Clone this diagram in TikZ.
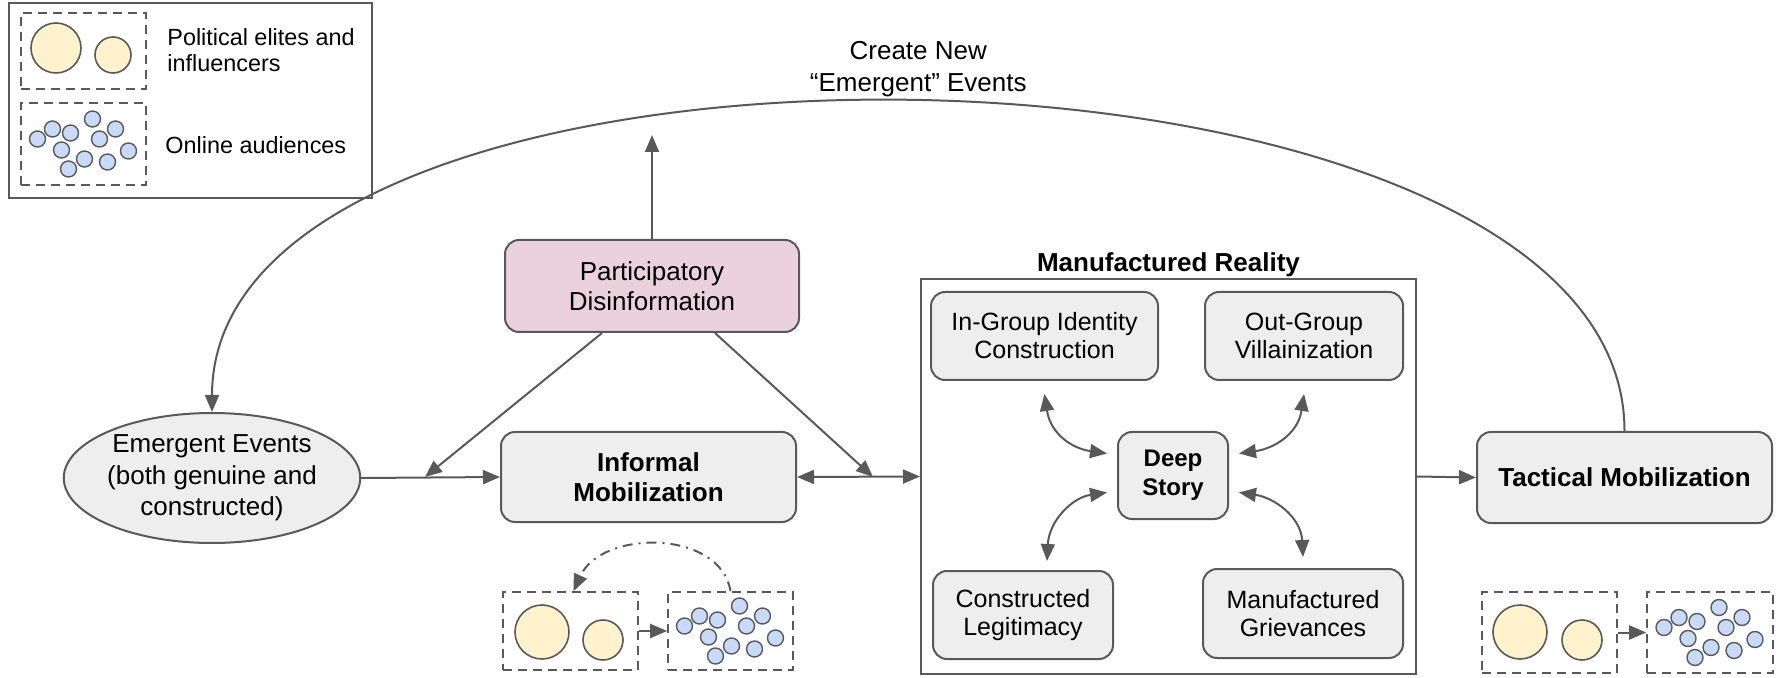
\documentclass[tikz,border=0pt]{standalone}
\usepackage{fontspec}
\setmainfont{Liberation Sans}
\usetikzlibrary{arrows.meta,positioning,shapes.geometric}

\definecolor{edge}{HTML}{595959}
\definecolor{panel}{HTML}{EEEEEE}
\definecolor{pinkbox}{HTML}{EAD1DC}
\definecolor{elitefill}{HTML}{FFF2CC}
\definecolor{crowdfill}{HTML}{C9DAF8}

\tikzset{
  stage/.style={draw=edge, line width=1pt, fill=panel, rounded corners=7pt,
    align=center, inner sep=0pt, font=\fontsize{13}{15}\selectfont},
  core/.style={stage, font=\fontsize{13}{15}\selectfont\bfseries},
  facet/.style={stage, font=\fontsize{12.5}{14}\selectfont},
  event/.style={ellipse, draw=edge, line width=1pt, fill=panel, align=center,
    inner sep=0pt, minimum width=148pt, minimum height=65pt,
    font=\fontsize{13}{15.75}\selectfont},
  realitybox/.style={draw=edge, line width=1pt, inner sep=0pt},
  groupbox/.style={draw=edge, line width=0.8pt, dash pattern=on 4.5pt off 3pt, inner sep=0pt},
  elite/.style={circle, draw=edge, line width=0.8pt, fill=elitefill, inner sep=0pt},
  fan/.style={circle, draw=edge, line width=0.7pt, fill=crowdfill, inner sep=0pt, minimum size=8pt},
  flow/.style={draw=edge, line width=1pt},
  legendtext/.style={anchor=west, align=left, inner sep=0pt, font=\fontsize{11.7}{13}\selectfont}
}

\begin{document}
\begin{tikzpicture}[x=0.5pt, y=-0.5pt, >={Triangle[length=8.5pt,width=7pt]}]
\useasboundingbox (0,0) rectangle (1777,678);

% Legend
\node[draw=edge, line width=1pt, inner sep=0pt, minimum width=181.5pt, minimum height=97.5pt] (legend) at (190.5,100.5) {};
\node[groupbox, minimum width=62.5pt, minimum height=38pt] (eb0) at (83.5,51) {};
\node[groupbox, minimum width=62.5pt, minimum height=41pt] (ab0) at (83.5,144) {};
\node[legendtext] (elitetext) at (167,50) {Political elites and\\influencers};
\node[legendtext] (crowdtext) at (165,145) {Online audiences};

% Main stages
\node[event] (ee) at (212,478) {Emergent Events\\(both genuine and\\constructed)};
\node[stage, fill=pinkbox, minimum width=147pt, minimum height=46pt] (pd) at (652,286) {Participatory\\Disinformation};
\node[core, minimum width=147.5pt, minimum height=45pt] (im) at (648.5,477) {Informal\\Mobilization};
\node[realitybox, minimum width=247.5pt, minimum height=197.5pt] (mr) at (1168.5,476.5) {};
\node[inner sep=0pt, above=0.5pt of mr, font=\fontsize{13}{15}\selectfont\bfseries] (mrtitle) {Manufactured Reality};
\node[core, minimum width=147.5pt, minimum height=45.5pt] (tm) at (1624.5,477.5) {Tactical Mobilization};

% Inside the manufactured reality
\node[facet, minimum width=113.5pt, minimum height=44pt] (ig) at (1044.5,336) {In-Group Identity\\Construction};
\node[facet, minimum width=99pt, minimum height=44pt] (og) at (1304,336) {Out-Group\\Villainization};
\node[facet, minimum width=90pt, minimum height=44pt] (cl) at (1023,615) {Constructed\\Legitimacy};
\node[facet, minimum width=100pt, minimum height=44.5pt] (mg) at (1303,613.5) {Manufactured\\Grievances};
\node[core, font=\fontsize{12}{14.5}\selectfont\bfseries, minimum width=55pt, minimum height=43.5pt] (ds) at (1173,475.5) {Deep\\Story};

\coordinate (j1) at (425,477);
\coordinate (j2) at (873,477);
\coordinate (top) at (652,135);

\draw[flow,->] (ee.east) -- (im.west);
\draw[flow,<->] (im.east) -- (mr.west);
\draw[flow,->] (mr.east) -- (tm.west);
\draw[flow,->] ([xshift=-25pt]pd.south) -- (j1);
\draw[flow,->] ([xshift=31.5pt]pd.south) -- (j2);
\draw[flow,->] (pd.north) -- (top);
\draw[flow,->] (tm.north) .. controls +(0,-426) and +(0,-426) .. node[pos=0.5, above=-1.5pt, align=center, font=\fontsize{13}{16}\selectfont] (cne) {Create New\\“Emergent” Events} (ee.north);

\draw[flow,<->] ([yshift=-6.5pt]ig.south) .. controls +(6,40) and +(-35,-5) .. ([xshift=-5pt,yshift=11pt]ds.west);
\draw[flow,<->] ([yshift=-6.5pt]og.south) .. controls +(-6,40) and +(35,-5) .. ([xshift=5pt,yshift=11pt]ds.east);
\draw[flow,<->] ([xshift=12pt,yshift=4.5pt]cl.north) .. controls +(2,-40) and +(-35,5) .. ([xshift=-5pt,yshift=-8.5pt]ds.west);
\draw[flow,<->] ([yshift=5.5pt]mg.north) .. controls +(-2,-40) and +(35,5) .. ([xshift=5pt,yshift=-8.5pt]ds.east);

% Actor groups
\node[groupbox, minimum width=67.5pt, minimum height=39pt] (eb1) at (570.5,631) {};
\node[groupbox, minimum width=62.5pt, minimum height=39pt] (ab1) at (730.5,631) {};
\node[groupbox, minimum width=67.5pt, minimum height=40.5pt] (eb2) at (1549.5,632.5) {};
\node[groupbox, minimum width=63pt, minimum height=40.5pt] (ab2) at (1710,632.5) {};

\draw[flow,->] (eb1) -- (ab1);
\draw[flow,->] (eb2) -- (ab2);
\draw[flow,->,dash pattern=on 5pt off 3pt on 1pt off 3pt] (ab1.north) .. controls +(-10,-62) and +(28,-62) .. ([xshift=1.5pt]eb1.north);

\foreach \b/\dxa/\dya/\sa/\dxb/\dyb/\sb in {eb0/-27.5/-3/25pt/29.5/4/18pt, eb1/-28.5/1/27pt/32.5/9/20pt, eb2/-29.5/-0.5/27pt/32.5/7.5/20pt} {
  \node[elite, minimum size=\sa] (\b-big) at ([shift={(\dxa,\dya)}]\b.center) {};
  \node[elite, minimum size=\sb] (\b-small) at ([shift={(\dxb,\dyb)}]\b.center) {};
}
\foreach \b in {ab0,ab1,ab2}
  \foreach \dx/\dy [count=\i] in {-46/-5, -31/-15, -13/-11, 9/-25, 32/-15, 16/-5, 45/7, -22/6, 1/15, 24/18, -15/25}
    \node[fan] (\b-\i) at ([shift={(\dx,\dy)}]\b.center) {};
\end{tikzpicture}
\end{document}
